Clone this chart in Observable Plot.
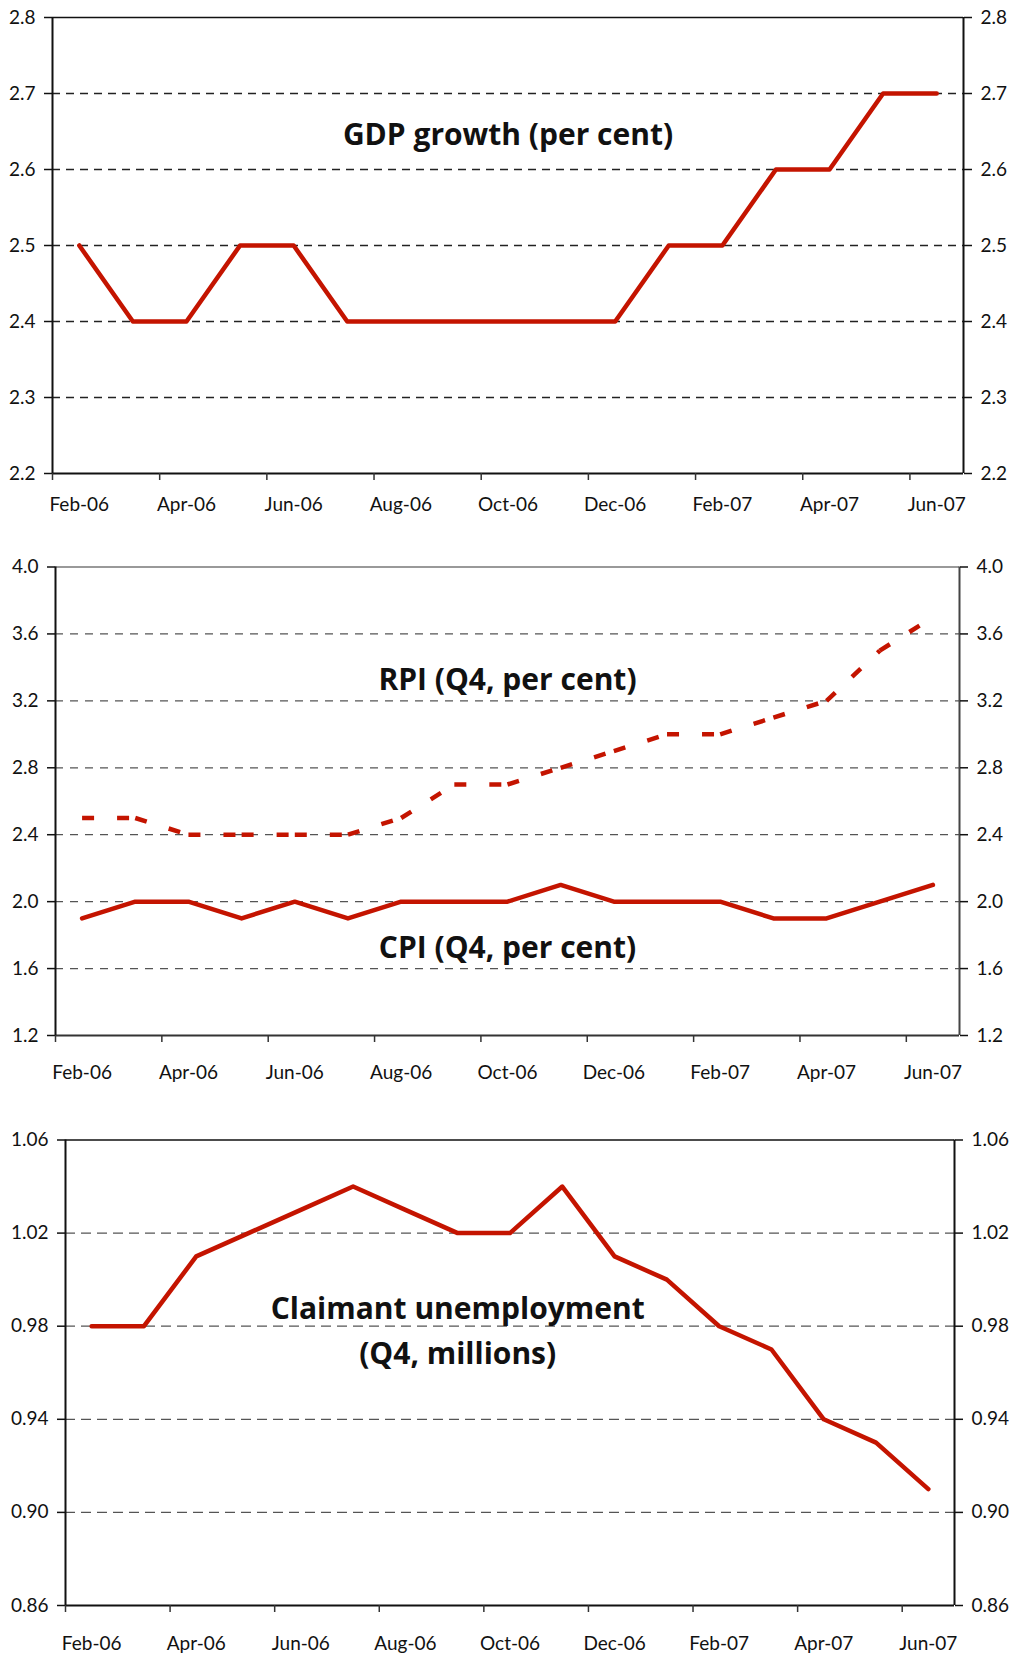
<!DOCTYPE html>
<html><head><meta charset="utf-8">
<script src="https://cdn.jsdelivr.net/npm/d3@7"></script>
<script src="https://cdn.jsdelivr.net/npm/@observablehq/plot@0.6"></script>
<style>
body{margin:0;background:#fff;}
#root{width:1011px;}
#root svg{display:block;}
</style></head><body><div id="root"></div>
<script>
const months = ["Feb-06","Mar-06","Apr-06","May-06","Jun-06","Jul-06","Aug-06","Sep-06","Oct-06","Nov-06","Dec-06","Jan-07","Feb-07","Mar-07","Apr-07","May-07","Jun-07"];
const gdp = [2.5,2.4,2.4,2.5,2.5,2.4,2.4,2.4,2.4,2.4,2.4,2.5,2.5,2.6,2.6,2.7,2.7];
const rpi = [2.5,2.5,2.4,2.4,2.4,2.4,2.5,2.7,2.7,2.8,2.9,3.0,3.0,3.1,3.2,3.5,3.7];
const cpi = [1.9,2.0,2.0,1.9,2.0,1.9,2.0,2.0,2.0,2.1,2.0,2.0,2.0,1.9,1.9,2.0,2.1];
const claimant = [0.98,0.98,1.01,1.02,1.03,1.04,1.03,1.02,1.02,1.04,1.01,1.00,0.98,0.97,0.94,0.93,0.91];
const gdpTicks = [2.2,2.3,2.4,2.5,2.6,2.7,2.8];
const inflTicks = [1.2,1.6,2.0,2.4,2.8,3.2,3.6,4.0];
const claimTicks = [0.86,0.90,0.94,0.98,1.02,1.06];
const gdpLabels = [{x:"Oct-06", y:2.651, lines:["GDP growth (per cent)"]}];
const inflLabels = [{x:"Oct-06", y:3.352, lines:["RPI (Q4, per cent)"]},{x:"Oct-06", y:1.752, lines:["CPI (Q4, per cent)"]}];
const claimLabels = [{x:"Sep-06", y:0.9795, lines:["Claimant unemployment","(Q4, millions)"]}];

const RED = "#c41400";
const FONT = "Lato, 'Open Sans', sans-serif";
const TFONT = "'Open Sans', Lato, sans-serif";
const idx = m => months.indexOf(m);
const series = vals => vals.map((v,i)=>({i, v}));
const segs = vals => d3.pairs(vals.map((v,i)=>({i,v}))).map(([a,b])=>({x1:a.i,y1:a.v,x2:b.i,y2:b.v}));
const boundaries = d3.range(-0.5, months.length - 1, 2);
const labelIdx = d3.range(0, months.length, 2);

function panel(o) {
  const lo = o.ticks[0], hi = o.ticks[o.ticks.length-1];
  const inner = o.ticks.slice(1, -1);
  return Plot.plot({
    width: 1011, height: o.height,
    marginTop: o.mt, marginBottom: o.mb, marginLeft: o.ml, marginRight: o.mr,
    style: {fontSize: "19px", fontFamily: FONT, color: "#111", background: "#fff"},
    x: {type: "linear", domain: [-0.5, months.length - 0.5], axis: null},
    y: {domain: [lo, hi], axis: null},
    marks: [
      Plot.ruleY(inner, {stroke: o.grid, strokeWidth: 1.3, strokeDasharray: o.dash}),
      Plot.ruleY([hi], {stroke: o.top, strokeWidth: 1.5}),
      Plot.ruleY([lo], {stroke: o.bottom, strokeWidth: 2}),
      Plot.ruleX([-0.5], {stroke: "#111", strokeWidth: 2}),
      Plot.ruleX([months.length - 0.5], {stroke: o.side, strokeWidth: 2}),
      Plot.axisY(o.ticks, {anchor: "left", label: null, tickSize: 8, tickPadding: 9, tickFormat: d3.format(o.fmt), stroke: "#111", strokeWidth: 1.5}),
      Plot.axisY(o.ticks, {anchor: "right", label: null, tickSize: 8, tickPadding: 9, tickFormat: d3.format(o.fmt), stroke: "#111", strokeWidth: 1.5}),
      Plot.axisX(boundaries, {anchor: "bottom", label: null, tickSize: 7, tickFormat: () => "", stroke: "#333", strokeWidth: 1.5}),
      Plot.axisX(labelIdx, {anchor: "bottom", label: null, tickSize: 0, tickPadding: o.xpad, tickFormat: i => months[i]}),
      ...o.marks,
      Plot.text(o.labels, {x: d => idx(d.x), y: "y", text: d => d.lines.join("\n"), fontSize: 30, fontWeight: "bold", fontFamily: TFONT, fill: "#111", lineHeight: 1.5, textAnchor: "middle"})
    ]
  });
}

const root = document.getElementById("root");
root.append(panel({
  height: 530, mt: 17, mb: 57, ml: 52, mr: 48,
  ticks: gdpTicks, fmt: ".1f", grid: "#222", dash: "8,6", top: "#111", bottom: "#111", side: "#111", xpad: 24,
  labels: gdpLabels,
  marks: [Plot.line(series(gdp), {x: "i", y: "v", stroke: RED, strokeWidth: 4.5, strokeLinejoin: "round", strokeLinecap: "round"})]
}));
root.append(panel({
  height: 565, mt: 36.5, mb: 60, ml: 55, mr: 52,
  ticks: inflTicks, fmt: ".1f", grid: "#555", dash: "8,7", top: "#777", bottom: "#333", side: "#444", xpad: 30,
  labels: inflLabels,
  marks: [
    Plot.link(segs(rpi), {x1: "x1", y1: "y1", x2: "x2", y2: "y2", stroke: RED, strokeWidth: 4.5, strokeDasharray: "12,23"}),
    Plot.line(series(cpi), {x: "i", y: "v", stroke: RED, strokeWidth: 4.5, strokeLinejoin: "round", strokeLinecap: "round"})
  ]
}));
root.append(panel({
  height: 562, mt: 44.5, mb: 52, ml: 65, mr: 57,
  ticks: claimTicks, fmt: ".2f", grid: "#555", dash: "10,6", top: "#111", bottom: "#111", side: "#111", xpad: 31,
  labels: claimLabels,
  marks: [Plot.line(series(claimant), {x: "i", y: "v", stroke: RED, strokeWidth: 4.5, strokeLinejoin: "round", strokeLinecap: "round"})]
}));
</script></body></html>
